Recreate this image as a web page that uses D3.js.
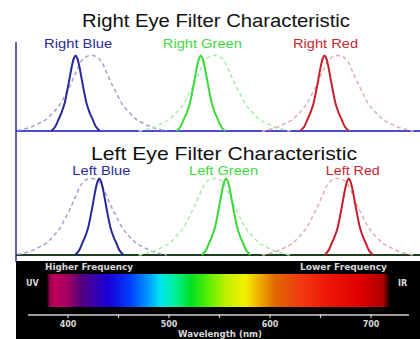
<!DOCTYPE html>
<html><head><meta charset="utf-8">
<script src="https://cdn.jsdelivr.net/npm/d3@7"></script>
<style>html,body{margin:0;padding:0;background:#fff;}svg{display:block;}</style>
</head><body>
<script>
// ---- data (wavelength nm, relative transmission) ----
const panelTitles = ["Right Eye Filter Characteristic", "Left Eye Filter Characteristic"];
const rightLabels = ["Right Blue", "Right Green", "Right Red"];
const leftLabels = ["Left Blue", "Left Green", "Left Red"];
const labelWavelengths = { right: [410, 533, 655], left: [433, 554, 682] };

const eyeBlue = [[350,0.01],[355,0.02],[363,0.05],[371,0.1],[378,0.15],[385,0.24],[392,0.35],[398,0.5],[403,0.63],[408,0.78],[413,0.92],[418,0.985],[423,1],[428,0.985],[433,0.92],[438,0.78],[443,0.63],[448,0.5],[454,0.35],[461,0.24],[468,0.15],[475,0.1],[483,0.05],[491,0.02],[498,0]];
const eyeGreen = [[470,0],[477,0.02],[485,0.05],[493,0.1],[500,0.15],[507,0.24],[514,0.35],[520,0.5],[525,0.63],[530,0.78],[535,0.92],[540,0.985],[545,1],[550,0.985],[555,0.92],[560,0.78],[565,0.63],[570,0.5],[576,0.35],[583,0.24],[590,0.15],[597,0.1],[605,0.05],[613,0.02],[620,0]];
const eyeRed = [[592,0],[599,0.02],[607,0.05],[615,0.1],[622,0.15],[629,0.24],[636,0.35],[642,0.5],[647,0.63],[652,0.78],[657,0.92],[662,0.985],[667,1],[672,0.985],[677,0.92],[682,0.78],[687,0.63],[692,0.5],[698,0.35],[705,0.24],[712,0.15],[719,0.1],[727,0.05],[735,0.02],[742,0]];

const rightBlue = [[383.5,0],[387.5,0.06],[390.5,0.15],[393.5,0.24],[396.5,0.36],[399.5,0.55],[402,0.73],[404,0.87],[406,0.97],[407.5,1],[409,0.97],[411,0.87],[413,0.73],[415.5,0.55],[418.5,0.36],[421.5,0.24],[424.5,0.15],[427.5,0.06],[431.5,0]];
const rightGreen = [[507.5,0],[511.5,0.06],[514.5,0.15],[517.5,0.24],[520.5,0.36],[523.5,0.55],[526,0.73],[528,0.87],[530,0.97],[531.5,1],[533,0.97],[535,0.87],[537,0.73],[539.5,0.55],[542.5,0.36],[545.5,0.24],[548.5,0.15],[551.5,0.06],[555.5,0]];
const rightRed = [[630,0],[634,0.06],[637,0.15],[640,0.24],[643,0.36],[646,0.55],[648.5,0.73],[650.5,0.87],[652.5,0.97],[654,1],[655.5,0.97],[657.5,0.87],[659.5,0.73],[662,0.55],[665,0.36],[668,0.24],[671,0.15],[674,0.06],[678,0]];
const leftBlue = [[407,0],[411,0.06],[414,0.15],[417,0.24],[420,0.36],[423,0.55],[425.5,0.73],[427.5,0.87],[429.5,0.97],[431,1],[432.5,0.97],[434.5,0.87],[436.5,0.73],[439,0.55],[442,0.36],[445,0.24],[448,0.15],[451,0.06],[455,0]];
const leftGreen = [[532.5,0],[536.5,0.06],[539.5,0.15],[542.5,0.24],[545.5,0.36],[548.5,0.55],[551,0.73],[553,0.87],[555,0.97],[556.5,1],[558,0.97],[560,0.87],[562,0.73],[564.5,0.55],[567.5,0.36],[570.5,0.24],[573.5,0.15],[576.5,0.06],[580.5,0]];
const leftRed = [[654,0],[658,0.06],[661,0.15],[664,0.24],[667,0.36],[670,0.55],[672.5,0.73],[674.5,0.87],[676.5,0.97],[678,1],[679.5,0.97],[681.5,0.87],[683.5,0.73],[686,0.55],[689,0.36],[692,0.24],[695,0.15],[698,0.06],[702,0]];

const spectrumTicks = [400, 450, 500, 550, 600, 650, 700];
const spectrumTickLabels = ["400", "", "500", "", "600", "", "700"];
const spectrumStops = [[379,"#000000"],[382,"#9a0050"],[387,"#c0005c"],[400,"#a00062"],[412,"#580078"],[425,"#3a00a8"],[440,"#1800d8"],[462,"#0040ff"],[482,"#00a8ff"],[492,"#00e8ec"],[505,"#00f0a0"],[522,"#00e020"],[540,"#60f000"],[555,"#b8f000"],[575,"#f4f000"],[588,"#f0b400"],[605,"#e06800"],[630,"#f03a10"],[655,"#f01808"],[690,"#e00000"],[712,"#b00000"],[719,"#000000"]];

// ---- drawing ----
const W = 420, H = 339;
const svg = d3.select("body").append("svg").attr("width", W).attr("height", H);
const x = d3.scaleLinear().domain([400, 700]).range([68, 371]);
const yTop = d3.scaleLinear().domain([0, 1]).range([131, 55.5]);
const yBot = d3.scaleLinear().domain([0, 1]).range([255, 178.5]);

const colors = {
  solid: ["#28289c", "#38d838", "#c81e2a"],
  dashed: ["#a2a2cc", "#aee8ae", "#e6acac"],
  label: ["#2c2c94", "#44d844", "#c2282e"]
};

// spectrum band background
svg.append("rect").attr("x", 16).attr("y", 261).attr("width", W - 16).attr("height", H - 261).attr("fill", "#000");

const defs = svg.append("defs");
const s0 = spectrumStops[0][0], s1 = spectrumStops[spectrumStops.length - 1][0];
const grad = defs.append("linearGradient").attr("id", "spec")
  .attr("gradientUnits", "userSpaceOnUse")
  .attr("x1", x(s0)).attr("x2", x(s1)).attr("y1", 0).attr("y2", 0);
grad.selectAll("stop").data(spectrumStops).join("stop")
  .attr("offset", d => (d[0] - s0) / (s1 - s0))
  .attr("stop-color", d => d[1]);
svg.append("rect").attr("x", x(s0)).attr("y", 274).attr("width", x(s1) - x(s0)).attr("height", 33)
  .attr("fill", "url(#spec)");

// spectrum axis
const axisG = svg.append("g").attr("transform", "translate(0,315)");
axisG.append("line").attr("x1", 28).attr("x2", 409).attr("stroke", "#cfcfcf").attr("stroke-width", 1.5);
axisG.selectAll("line.tk").data(spectrumTicks).join("line").attr("class", "tk")
  .attr("x1", d => x(d)).attr("x2", d => x(d)).attr("y1", -1).attr("y2", 3)
  .attr("stroke", "#cfcfcf").attr("stroke-width", 1.2);
axisG.selectAll("text").data(spectrumTicks).join("text")
  .attr("x", d => x(d)).attr("y", 12).attr("text-anchor", "middle")
  .attr("fill", "#d8d8d8").attr("font-family", "DejaVu Sans").attr("font-weight", "bold").attr("font-size", 8)
  .text((d, i) => spectrumTickLabels[i]);

const bandText = (t, xx, yy, anchor, len) => {
  const el = svg.append("text").attr("x", xx).attr("y", yy).attr("text-anchor", anchor)
    .attr("fill", "#d8d8d8").attr("font-family", "DejaVu Sans").attr("font-weight", "bold").attr("font-size", 8).text(t);
  if (len) el.attr("textLength", len).attr("lengthAdjust", "spacingAndGlyphs");
};
bandText("Higher Frequency", 45, 270, "start", 88);
bandText("Lower Frequency", 387, 270, "end", 87);
bandText("UV", 26, 286, "start");
bandText("IR", 398, 286, "start");
bandText("Wavelength (nm)", 220, 337, "middle", 84);

// baselines and left axis
svg.append("line").attr("x1", 16).attr("x2", W).attr("y1", 131).attr("y2", 131).attr("stroke", "#4b4bd0").attr("stroke-width", 1.8);
svg.append("line").attr("x1", 16).attr("x2", W).attr("y1", 255).attr("y2", 255).attr("stroke", "#1f3d1f").attr("stroke-width", 2);
svg.append("line").attr("x1", 16).attr("x2", 16).attr("y1", 42).attr("y2", 262).attr("stroke", "#2e2e9e").attr("stroke-width", 1.5);

function drawPanel(y, eye, filters, labels, lblW, lblLen, title, titleX, titleY, titleLen, lblY) {
  const line = d3.line().x(d => x(d[0])).y(d => y(d[1])).curve(d3.curveCatmullRom.alpha(0.5));
  eye.forEach((arr, i) => {
    svg.append("path").attr("d", line(arr)).attr("fill", "none")
      .attr("stroke", colors.dashed[i]).attr("stroke-width", 1.5).attr("stroke-dasharray", "4,3");
  });
  filters.forEach((arr, i) => {
    svg.append("path").attr("d", line(arr)).attr("fill", "none")
      .attr("stroke", colors.solid[i]).attr("stroke-width", 2);
  });
  labels.forEach((t, i) => {
    svg.append("text").attr("x", x(lblW[i])).attr("y", lblY).attr("text-anchor", "middle")
      .attr("fill", colors.label[i]).attr("font-family", "Liberation Sans, Arial").attr("font-size", 13)
      .attr("textLength", lblLen[i]).attr("lengthAdjust", "spacingAndGlyphs").text(t);
  });
  svg.append("text").attr("x", titleX).attr("y", titleY).attr("text-anchor", "middle")
    .attr("fill", "#111").attr("font-family", "Liberation Sans, Arial").attr("font-size", 18.5)
    .attr("textLength", titleLen).attr("lengthAdjust", "spacingAndGlyphs").text(title);
}

drawPanel(yTop, [eyeBlue, eyeGreen, eyeRed], [rightBlue, rightGreen, rightRed], rightLabels, labelWavelengths.right, [68, 79, 65], panelTitles[0], 216, 27, 268, 48);
drawPanel(yBot, [eyeBlue, eyeGreen, eyeRed], [leftBlue, leftGreen, leftRed], leftLabels, labelWavelengths.left, [58, 69, 54], panelTitles[1], 224, 160, 266, 175);
</script>
</body></html>
